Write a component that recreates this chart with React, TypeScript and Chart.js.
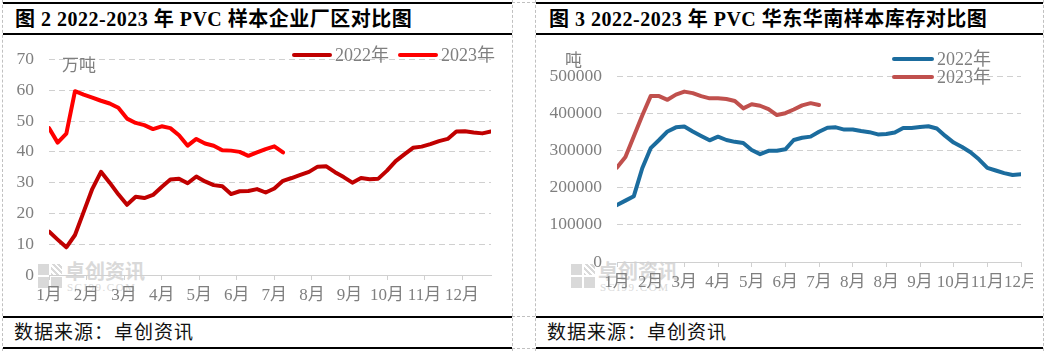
import React, { useEffect, useRef } from "react";
import { Chart, registerables } from "chart.js";
Chart.register(...registerables);

// ---------- Data ----------
const leftMonthLabels = ["1月", "2月", "3月", "4月", "5月", "6月", "7月", "8月", "9月", "10月", "11月", "12月"];
const leftYTicks = [0, 10, 20, 30, 40, 50, 60, 70];
const left2022 = [
  14.1, 11.5, 9.0, 13, 20.5, 28, 33.5, 30, 26.2, 22.8,
  25.4, 25, 26, 28.6, 31, 31.3, 29.8, 32, 30.4, 29.2,
  28.8, 26.3, 27.2, 27.3, 27.9, 26.8, 28.1, 30.6, 31.5, 32.5,
  33.5, 35.2, 35.3, 33.4, 31.8, 30, 31.5, 31.1, 31.3, 33.9,
  37, 39.2, 41.3, 41.7, 42.5, 43.5, 44.2, 46.6, 46.7, 46.3,
  46, 46.6,
];
const left2023 = [
  47.7, 43, 45.9, 59.7, 58.6, 57.6, 56.6, 55.7, 54.3, 50.8,
  49.4, 48.7, 47.4, 48.3, 47.7, 45.4, 42, 44.2, 42.7, 42,
  40.5, 40.4, 40, 38.7, 39.8, 40.9, 41.8, 39.8,
];

const rightMonthLabels = ["1月", "2月", "3月", "4月", "5月", "6月", "7月", "8月", "8月", "9月", "10月", "11月", "12月"];
const rightYTicks = [0, 100000, 200000, 300000, 400000, 500000];
const right2022 = [
  153000, 165000, 177000, 252000, 306000, 328000, 351000, 362000, 364000, 351000,
  339000, 327000, 337000, 328000, 323000, 320000, 301000, 290000, 299000, 299000,
  303000, 328000, 334000, 337000, 350000, 361000, 362000, 356000, 356000, 352000,
  349000, 343000, 344000, 348000, 360000, 360000, 363000, 365000, 359000, 339000,
  321000, 309000, 295000, 276000, 253000, 246000, 239000, 234000, 236000,
];
const right2023 = [
  254000, 282000, 338000, 394000, 446000, 446000, 436000, 450000, 458000, 454000,
  446000, 440000, 440000, 438000, 433000, 413000, 424000, 420000, 411000, 395000,
  400000, 410000, 421000, 427000, 422000,
];

const seriesNames = ["2022年", "2023年"];

// ---------- Styling ----------
const FONT = "'Liberation Serif', 'Noto Sans CJK SC', serif";
const GRAY = "#7f7f7f";
const GRID = "#d0d0d0";

type ChartSpec = {
  labels: string[];
  tickPositions: number[];
  xMax: number;
  yTicks: number[];
  series: { data: number[]; color: string }[];
  yWidth: number;
  xHeight: number;
  padTop: number;
  padRight: number;
};

function buildChart(canvas: HTMLCanvasElement, spec: ChartSpec) {
  const yMax = spec.yTicks[spec.yTicks.length - 1];
  const step = spec.yTicks[1] - spec.yTicks[0];
  return new Chart(canvas, {
    type: "line",
    data: {
      datasets: spec.series.map((s) => ({
        data: s.data.map((v, i) => ({ x: i, y: v })),
        borderColor: s.color,
        backgroundColor: s.color,
        borderWidth: 4,
        pointRadius: 0,
        tension: 0,
        borderJoinStyle: "round" as const,
        borderCapStyle: "round" as const,
      })),
    },
    options: {
      responsive: false,
      animation: false,
      maintainAspectRatio: false,
      layout: { padding: { top: spec.padTop, right: spec.padRight, left: 0, bottom: 0 } },
      plugins: { legend: { display: false }, tooltip: { enabled: false } },
      scales: {
        x: {
          type: "linear",
          min: 0,
          max: spec.xMax,
          afterBuildTicks: (s: any) => {
            s.ticks = spec.tickPositions.map((v) => ({ value: v }));
          },
          afterFit: (s: any) => {
            s.height = spec.xHeight;
          },
          ticks: {
            autoSkip: false,
            maxRotation: 0,
            minRotation: 0,
            color: GRAY,
            font: { family: FONT, size: 17 },
            padding: 5,
            callback: (_v: any, i: number) => spec.labels[i],
          },
          grid: { drawOnChartArea: false, drawTicks: true, tickLength: 5, color: GRID },
          border: { display: true, color: GRID, width: 1 },
        },
        y: {
          min: 0,
          max: yMax,
          afterBuildTicks: (s: any) => {
            s.ticks = spec.yTicks.map((v) => ({ value: v }));
          },
          afterFit: (s: any) => {
            s.width = spec.yWidth;
          },
          ticks: {
            stepSize: step,
            color: GRAY,
            font: { family: FONT, size: 17.5 },
            padding: 15,
            callback: (v: any) => String(v),
          },
          grid: { color: GRID, lineWidth: 1, drawTicks: false },
          border: { display: false, dash: [6, 4] },
        },
      },
    } as any,
  });
}

function Watermark({ left, top }: { left: number; top: number }) {
  const c = "#d9d9d9";
  return (
    <div style={{ position: "absolute", left, top, width: 120, height: 30, pointerEvents: "none" }}>
      <div style={{ position: "absolute", left: 0, top: 0, width: 11, height: 11, background: c }} />
      <div style={{ position: "absolute", left: 13, top: 0, width: 11, height: 11, background: "repeating-linear-gradient(45deg,#d9d9d9 0 2px,#fff 2px 4px)" }} />
      <div style={{ position: "absolute", left: 0, top: 13, width: 11, height: 11, background: c }} />
      <div style={{ position: "absolute", left: 13, top: 13, width: 11, height: 11, background: c }} />
      <div style={{ position: "absolute", left: 27, top: -3, font: `bold 20px 'Noto Sans CJK SC', sans-serif`, color: c, lineHeight: "20px", whiteSpace: "nowrap" }}>卓创资讯</div>
      <div style={{ position: "absolute", left: 29, top: 18, font: `11px ${FONT}`, color: c, letterSpacing: "1.5px", lineHeight: "11px", whiteSpace: "nowrap" }}>SCI99.COM</div>
    </div>
  );
}

function LegendItem({ left, top, color, text, lineLen }: { left: number; top: number; color: string; text: string; lineLen: number }) {
  return (
    <div style={{ position: "absolute", left, top, height: 20, whiteSpace: "nowrap" }}>
      <div style={{ position: "absolute", left: 0, top: 8, width: lineLen, height: 4, borderRadius: 2, background: color }} />
      <div style={{ position: "absolute", left: lineLen + 3, top: 0, font: `18px ${FONT}`, color: GRAY, lineHeight: "20px" }}>{text}</div>
    </div>
  );
}

export default function App() {
  const leftRef = useRef<HTMLCanvasElement>(null);
  const rightRef = useRef<HTMLCanvasElement>(null);

  useEffect(() => {
    const c1 = buildChart(leftRef.current!, {
      labels: leftMonthLabels,
      tickPositions: leftMonthLabels.map((_, k) => (k * 52) / 12),
      xMax: left2022.length - 1,
      yTicks: leftYTicks,
      series: [
        { data: left2022, color: "#C00000" },
        { data: left2023, color: "#FF0000" },
      ],
      yWidth: 46,
      xHeight: 40,
      padTop: 21,
      padRight: 21,
    });
    const c2 = buildChart(rightRef.current!, {
      labels: rightMonthLabels,
      tickPositions: rightMonthLabels.map((_, k) => k * 4),
      xMax: right2022.length - 1,
      yTicks: rightYTicks,
      series: [
        { data: right2022, color: "#1B6C9E" },
        { data: right2023, color: "#C0504D" },
      ],
      yWidth: 81,
      xHeight: 53,
      padTop: 42,
      padRight: 20,
    });
    return () => {
      c1.destroy();
      c2.destroy();
    };
  }, []);

  const hLine = (left: number, top: number, width: number, h = 2) => (
    <div style={{ position: "absolute", left, top, width, height: h, background: "#000" }} />
  );
  const vDash = (left: number) => (
    <div style={{ position: "absolute", left, top: 0, width: 0, height: 351, borderLeft: "1px dashed #c0c0c0" }} />
  );
  const hDash = (left: number, top: number, width: number) => (
    <div style={{ position: "absolute", left, top, width, height: 0, borderTop: "1px dashed #c0c0c0" }} />
  );

  const titleStyle: React.CSSProperties = {
    position: "absolute",
    top: 8,
    font: `bold 20px ${FONT}`,
    color: "#000",
    lineHeight: "22px",
    letterSpacing: "0.5px",
    whiteSpace: "pre",
  };
  const footStyle: React.CSSProperties = {
    position: "absolute",
    top: 320,
    font: `19px 'Noto Sans CJK SC', sans-serif`,
    color: "#111",
    lineHeight: "22px",
    letterSpacing: "1px",
    whiteSpace: "nowrap",
  };

  return (
    <div style={{ position: "fixed", left: 0, top: 0, width: 1048, height: 351, background: "#fff", overflow: "hidden" }}>
      {vDash(2)}
      {vDash(512)}
      {vDash(535)}
      {vDash(1043)}
      {hDash(512, 2, 23)}
      {hDash(512, 316, 23)}
      {hDash(512, 348, 23)}

      {/* left panel */}
      {hLine(3, 2, 509)}
      {hLine(3, 33, 509)}
      {hLine(3, 316, 509)}
      {hLine(3, 347, 509)}
      <div style={{ ...titleStyle, left: 15 }}>图 2 2022-2023 年 PVC 样本企业厂区对比图</div>
      <div style={{ ...footStyle, left: 14 }}>数据来源：卓创资讯</div>
      <Watermark left={38} top={264} />
      <canvas ref={leftRef} width={509} height={281} style={{ position: "absolute", left: 3, top: 34, width: 509, height: 281 }} />
      <div style={{ position: "absolute", left: 62, top: 54, font: `17px 'Noto Sans CJK SC', sans-serif`, color: GRAY, lineHeight: "20px" }}>万吨</div>
      <LegendItem left={292} top={45} color="#C00000" text={seriesNames[0]} lineLen={40} />
      <LegendItem left={398} top={45} color="#FF0000" text={seriesNames[1]} lineLen={40} />

      {/* right panel */}
      {hLine(536, 2, 507)}
      {hLine(536, 33, 507)}
      {hLine(536, 316, 507)}
      {hLine(536, 347, 507)}
      <div style={{ ...titleStyle, left: 549 }}>图 3 2022-2023 年 PVC 华东华南样本库存对比图</div>
      <div style={{ ...footStyle, left: 547 }}>数据来源：卓创资讯</div>
      <Watermark left={571} top={264} />
      <div style={{ position: "absolute", left: 536, top: 34, width: 497, height: 281, overflow: "hidden" }}>
        <canvas ref={rightRef} width={507} height={281} style={{ position: "absolute", left: 0, top: 0, width: 507, height: 281 }} />
      </div>
      <div style={{ position: "absolute", left: 565, top: 49, font: `17px 'Noto Sans CJK SC', sans-serif`, color: GRAY, lineHeight: "20px" }}>吨</div>
      <LegendItem left={892} top={49} color="#1B6C9E" text={seriesNames[0]} lineLen={42} />
      <LegendItem left={892} top={67} color="#C0504D" text={seriesNames[1]} lineLen={42} />
    </div>
  );
}
